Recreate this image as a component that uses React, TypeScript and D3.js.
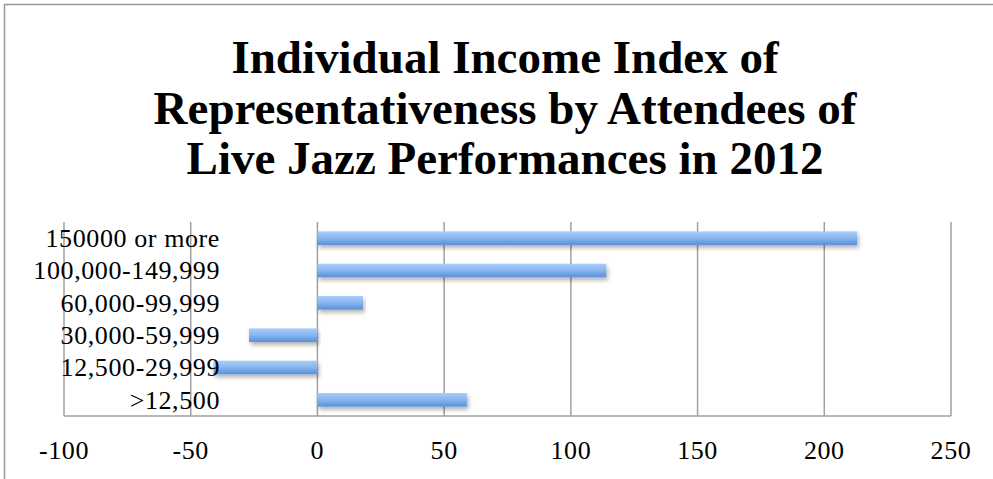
import React from "react";
import * as d3 from "d3";

// Income brackets, top to bottom as drawn
const categories = [
  "150000 or more",
  "100,000-149,999",
  "60,000-99,999",
  "30,000-59,999",
  "12,500-29,999",
  ">12,500",
];

// Index of representativeness for each bracket
const values = [213, 114, 18, -27, -41, 59];

const xTicks = [-100, -50, 0, 50, 100, 150, 200, 250];

const titleLines = [
  "Individual Income Index of",
  "Representativeness by Attendees of",
  "Live Jazz Performances in 2012",
];

const W = 993;
const H = 479;
const plot = { left: 64, right: 951, top: 222, bottom: 416 };

export default function App() {
  const x = d3.scaleLinear().domain([-100, 250]).range([plot.left, plot.right]);
  const y = d3
    .scaleBand<string>()
    .domain(categories)
    .range([plot.top, plot.bottom])
    .paddingInner(0.58)
    .paddingOuter(0.29);

  const grid = "#a0a0a0";
  const labelFont = "'Liberation Serif', 'Times New Roman', serif";

  return (
    <div style={{ position: "fixed", left: 0, top: 0 }}>
      <svg width={W} height={H} style={{ display: "block", background: "#fff" }}>
        <defs>
          <linearGradient id="barFill" x1="0" y1="0" x2="0" y2="1">
            <stop offset="0%" stopColor="#aacdf8" />
            <stop offset="45%" stopColor="#8bb8f0" />
            <stop offset="100%" stopColor="#5990d8" />
          </linearGradient>
          <filter id="barShadow" x="-5%" y="-50%" width="110%" height="220%">
            <feDropShadow dx="1.5" dy="3" stdDeviation="2" floodColor="#000" floodOpacity="0.3" />
          </filter>
        </defs>

        {/* chart frame */}
        <rect x={4.5} y={4.5} width={W + 20} height={H + 20} fill="none" stroke="#999" strokeWidth={1.5} />

        {/* title */}
        <text
          textAnchor="middle"
          fontFamily="'Liberation Serif', serif"
          fontWeight="bold"
          fontSize={47}
          fill="#000"
        >
          {titleLines.map((line, i) => (
            <tspan key={line} x={505} y={73 + i * 50.5}>
              {line}
            </tspan>
          ))}
        </text>

        {/* vertical gridlines */}
        {xTicks.map((t) => (
          <line
            key={t}
            x1={x(t)}
            x2={x(t)}
            y1={plot.top}
            y2={plot.bottom}
            stroke={grid}
            strokeWidth={1.5}
          />
        ))}
        {/* horizontal axis line */}
        <line x1={plot.left} x2={plot.right} y1={plot.bottom} y2={plot.bottom} stroke={grid} strokeWidth={1.5} />

        {/* bars */}
        {categories.map((c, i) => {
          const v = values[i];
          const x0 = x(Math.min(0, v));
          const x1 = x(Math.max(0, v));
          return (
            <rect
              key={c}
              x={x0}
              y={y(c)!}
              width={x1 - x0}
              height={y.bandwidth()}
              fill="url(#barFill)"
              filter="url(#barShadow)"
            />
          );
        })}

        {/* category labels */}
        {categories.map((c) => (
          <text
            key={c}
            x={220}
            y={y(c)! + y.bandwidth() / 2}
            dy="0.34em"
            textAnchor="end"
            fontFamily={labelFont}
            fontSize={26}
            letterSpacing={0.6}
            fill="#000"
          >
            {c}
          </text>
        ))}

        {/* tick labels */}
        {xTicks.map((t) => (
          <text
            key={t}
            x={x(t)}
            y={459}
            textAnchor="middle"
            fontFamily={labelFont}
            fontSize={26}
            letterSpacing={0.6}
            fill="#000"
          >
            {t}
          </text>
        ))}
      </svg>
    </div>
  );
}
